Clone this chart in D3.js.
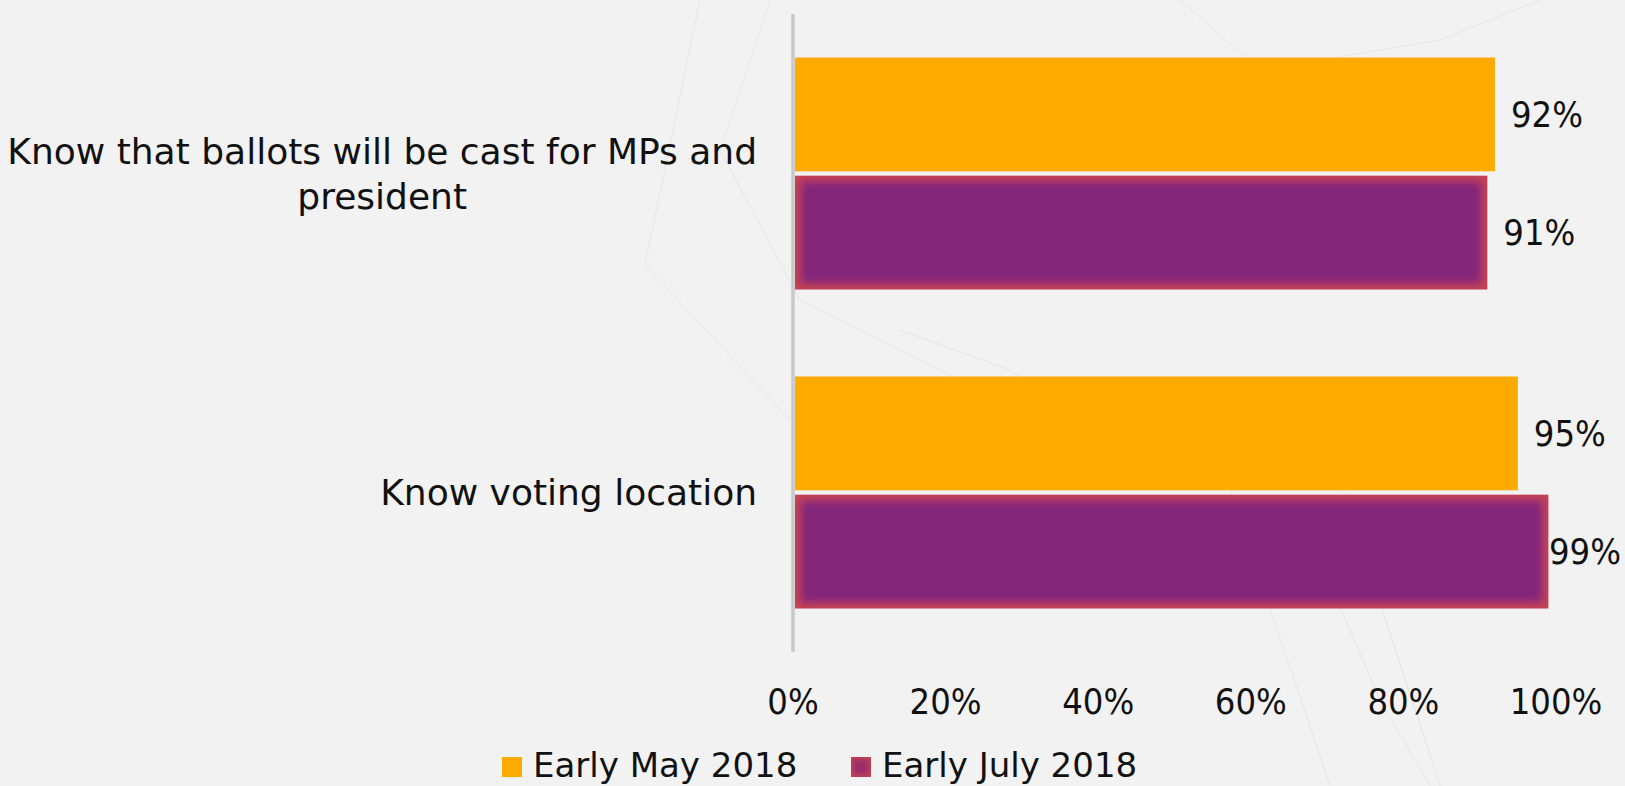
<!DOCTYPE html>
<html>
<head>
<meta charset="utf-8">
<script src="https://cdn.jsdelivr.net/npm/d3@7"></script>
<style>
  html, body { margin: 0; padding: 0; background: #f2f2f2; }
  svg { display: block; }
  text { font-family: "Century Gothic", "DejaVu Sans", sans-serif; fill: #111; }
  text.num { font-family: "DejaVu Sans Condensed", "DejaVu Sans", sans-serif; font-stretch: condensed; }
</style>
</head>
<body>
<svg id="chart" width="1625" height="786"></svg>
<script>
// ---- data ----
const categories = [
  ["Know that ballots will be cast for MPs and", "president"],
  ["Know voting location"]
];
const seriesNames = ["Early May 2018", "Early July 2018"];
const mayValues = [0.92, 0.95];
const julyValues = [0.91, 0.99];
const tickValues = [0, 0.2, 0.4, 0.6, 0.8, 1.0];
const tickLabels = ["0%", "20%", "40%", "60%", "80%", "100%"];
const colors = ["#FFAA00", "#83277A"];

const W = 1625, H = 786;
const FS_WORD = 36, FS_NUM = 36, FS_LEG = 34;
const svg = d3.select("#chart");

// background
svg.append("rect").attr("width", W).attr("height", H).attr("fill", "#f2f2f2");
const deco = svg.append("g").attr("fill", "none").attr("stroke", "#e5e5e5").attr("stroke-width", 1);
[
  [[700,0],[645,265],[790,420],[1000,380],[1330,450],[1440,786]],
  [[770,0],[720,150],[800,300],[980,390],[1220,460],[1330,786]],
  [[1180,0],[1260,70],[1440,40],[1540,0]],
  [[1320,560],[1380,700],[1430,786]],
  [[900,330],[1010,370],[1100,430],[1300,440]]
].forEach(pts => deco.append("path").attr("d", d3.line()(pts)));

// defs: inner glow for purple bars
const defs = svg.append("defs");
function glowFilter(id, erode, blur, inner) {
  const f = defs.append("filter").attr("id", id)
    .attr("x", "-5%").attr("y", "-5%").attr("width", "110%").attr("height", "110%");
  f.append("feMorphology").attr("in", "SourceAlpha").attr("operator", "erode").attr("radius", erode).attr("result", "er");
  f.append("feGaussianBlur").attr("in", "er").attr("stdDeviation", blur).attr("result", "bl");
  f.append("feFlood").attr("flood-color", "#c9444e").attr("result", "red");
  f.append("feComposite").attr("in", "red").attr("in2", "SourceAlpha").attr("operator", "in").attr("result", "redShape");
  f.append("feFlood").attr("flood-color", inner).attr("result", "pur");
  f.append("feComposite").attr("in", "pur").attr("in2", "bl").attr("operator", "in").attr("result", "purBlur");
  f.append("feComposite").attr("in", "purBlur").attr("in2", "SourceAlpha").attr("operator", "in").attr("result", "purClip");
  const fm = f.append("feMerge");
  fm.append("feMergeNode").attr("in", "redShape");
  fm.append("feMergeNode").attr("in", "purClip");
}
glowFilter("glow", 5, 4, "#83277A");
glowFilter("glowSmall", 2, 2.5, "#9a2f6a");

// scales
const x = d3.scaleLinear().domain([0, 1]).range([793, 1556]);
const y0 = d3.scaleBand().domain(d3.range(categories.length)).range([14, 652])
  .paddingInner(0.2727).paddingOuter(0.1364);
const y1 = d3.scaleBand().domain(d3.range(seriesNames.length)).range([0, y0.bandwidth()])
  .paddingInner(0.037).paddingOuter(0);

const series = [mayValues, julyValues];

// bars
const g = svg.append("g");
series.forEach((vals, si) => {
  g.selectAll(null).data(vals).enter().append("rect")
    .attr("x", x(0) + 2)
    .attr("y", (d, i) => y0(i) + y1(si))
    .attr("width", d => x(d) - x(0) - 2)
    .attr("height", y1.bandwidth())
    .attr("fill", colors[si])
    .attr("filter", si === 1 ? "url(#glow)" : null);
});

// axis line (category axis)
svg.append("line")
  .attr("x1", x(0)).attr("x2", x(0))
  .attr("y1", y0.range()[0]).attr("y2", y0.range()[1])
  .attr("stroke", "#c9c9c9").attr("stroke-width", 3.5);

// data labels
series.forEach((vals, si) => {
  vals.forEach((v, i) => {
    const t = svg.append("text").attr("class", "num")
      .attr("font-size", FS_NUM)
      .attr("dominant-baseline", "central")
      .attr("y", y0(i) + y1(si) + y1.bandwidth() / 2)
      .text(d3.format(".0%")(v));
    const w = t.node().getComputedTextLength();
    const xx = Math.min(x(v) + 16, W - 4 - w);
    t.attr("x", xx);
  });
});

// x tick labels
const xAxis = svg.append("g").attr("transform", "translate(0,701)");
xAxis.selectAll("text").data(tickValues).enter().append("text")
  .attr("class", "num")
  .attr("x", d => x(d))
  .attr("text-anchor", "middle")
  .attr("dominant-baseline", "central")
  .attr("font-size", FS_NUM)
  .text((d, i) => tickLabels[i]);

// category labels
const labelRight = 757;
const lineH = 45;
categories.forEach((lines, i) => {
  const cy = y0(i) + y0.bandwidth() / 2;
  const grp = svg.append("g");
  const texts = lines.map((ln, k) => grp.append("text")
    .attr("font-size", FS_WORD)
    .attr("text-anchor", "middle")
    .attr("dominant-baseline", "central")
    .attr("y", cy + (k - (lines.length - 1) / 2) * lineH)
    .text(ln));
  const maxW = d3.max(texts, t => t.node().getComputedTextLength());
  texts.forEach(t => t.attr("x", labelRight - maxW / 2));
});

// legend
const legend = svg.append("g").attr("transform", "translate(0,765)");
const legX = [502, 851];
seriesNames.forEach((name, si) => {
  legend.append("rect")
    .attr("x", legX[si]).attr("y", -8).attr("width", 20).attr("height", 20)
    .attr("fill", colors[si])
    .attr("filter", si === 1 ? "url(#glowSmall)" : null);
  legend.append("text")
    .attr("x", legX[si] + 31).attr("y", 0)
    .attr("dominant-baseline", "central")
    .attr("font-size", FS_LEG)
    .text(name);
});
</script>
</body>
</html>
